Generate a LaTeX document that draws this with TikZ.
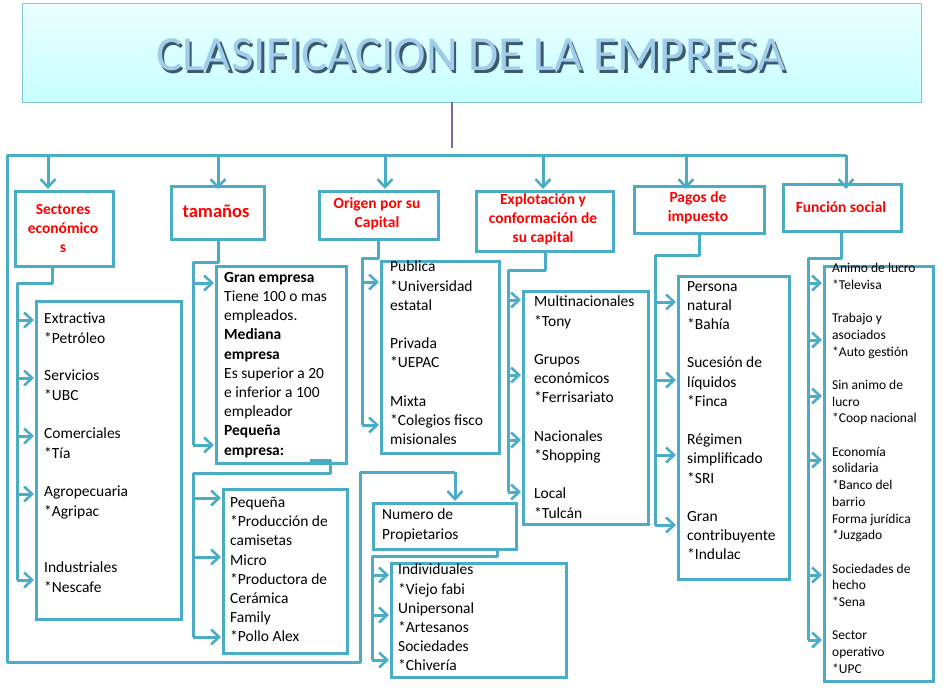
\documentclass[tikz,border=0pt]{standalone}
\usepackage{fontspec}
\setmainfont{Carlito}
\usetikzlibrary{arrows.meta,shadows}
\definecolor{bx}{RGB}{75,172,198}
\definecolor{ttl}{RGB}{160,205,235}
\begin{document}
\begin{tikzpicture}[x=1pt,y=-1pt,
 box/.style={draw=bx,line width=3pt,fill=white},
 ln/.style={draw=bx,line width=3pt,line join=round},
 ar/.style={ln,-{Straight Barb[length=8pt,width=15pt,line width=2.6pt]}},
 hd/.style={text=red,font=\bfseries\fontsize{15.5}{19}\selectfont,align=center,inner sep=0},
 tx/.style={anchor=north west,inner sep=0,align=left,font=\fontsize{15.5}{19.2}\selectfont},
 sm/.style={anchor=north west,inner sep=0,align=left,font=\fontsize{13.5}{16.7}\selectfont}]
\useasboundingbox (0,0) rectangle (945,691);
% title
\node[draw=bx!70,line width=1pt,top color=cyan!8,bottom color=cyan!22,minimum width=899pt,minimum height=99pt,anchor=north west,inner sep=0] (title) at (22,3) {};
\node[text={rgb,255:red,60;green,90;blue,110},font=\fontsize{49}{49}\selectfont,inner sep=0] (ts) at (473.5,57.5) {CLASIFICACION DE LA EMPRESA};
\node[text=ttl,font=\fontsize{49}{49}\selectfont,inner sep=0] (tt) at (471,55) {CLASIFICACION DE LA EMPRESA};
\coordinate (tb) at (452,102);
\coordinate (tbe) at (452,148);
\draw[draw={rgb,255:red,128;green,100;blue,162},line width=2.5pt] (tb) -- (tbe);
% bus
\coordinate (bL) at (7,155); \coordinate (bR) at (846,155);
\coordinate (lp1) at (7,662); \coordinate (lp2) at (360,662); \coordinate (lp3) at (360,472); \coordinate (lp4) at (455,472);
\draw[ln] (bR) -- (bL) -- (lp1) -- (lp2) -- (lp3) -- (lp4);
% headers
\node[box,anchor=north west,minimum width=98pt,minimum height=75pt] (h1) at (14,190) {};
\node[hd] at (63,228) {Sectores\\económico\\s};
\node[box,anchor=north west,minimum width=93pt,minimum height=53pt] (h2) at (170,185) {};
\node[hd,font=\bfseries\fontsize{18.5}{19}\selectfont] at (216,211) {tamaños};
\node[box,anchor=north west,minimum width=119pt,minimum height=48pt] (h3) at (318,190) {};
\node[hd] at (377,214) {Origen por su\\Capital};
\node[box,anchor=north west,minimum width=137pt,minimum height=60pt] (h4) at (475,190) {};
\node[hd] at (543,219) {Explotación y\\conformación de\\su capital};
\node[box,anchor=north west,minimum width=130pt,minimum height=47pt] (h5) at (633,185) {};
\node[hd] at (698,208) {Pagos de\\impuesto};
\node[box,anchor=north west,minimum width=118pt,minimum height=47pt] (h6) at (782,183) {};
\node[hd] at (841,207) {Función social};
\foreach \x/\n in {48/h1,218/h2,385/h3,543/h4,686/h5,846/h6}{
  \coordinate (t\n) at (\x,155);
  \draw[ar] (t\n) -- (\x,189);}
% child boxes
\node[box,anchor=north west,minimum width=145pt,minimum height=318pt] (c1) at (35,300) {};
\node[box,anchor=north west,minimum width=130pt,minimum height=197pt] (c2) at (215,265) {};
\node[box,anchor=north west,minimum width=124pt,minimum height=164pt] (c2b) at (222,488) {};
\node[box,anchor=north west,minimum width=118pt,minimum height=192pt] (c3) at (380,260) {};
\node[box,anchor=north west,minimum width=125pt,minimum height=233pt] (c4) at (522,290) {};
\node[box,anchor=north west,minimum width=111pt,minimum height=303pt] (c5) at (677,275) {};
\node[box,anchor=north west,minimum width=109pt,minimum height=415pt] (c6) at (823,265) {};
\node[box,anchor=north west,minimum width=143pt,minimum height=46pt] (c7) at (372,502) {};
\node[box,anchor=north west,minimum width=175pt,minimum height=114pt] (c8) at (390,562) {};
% connectors
\draw[ln] (52,265) -- (52,283) -- (17,283) -- (17,580);
\foreach \y in {320,378,436,494,580} \draw[ar] (17,\y) -- (34,\y);
\draw[ln] (218,238) -- (218,262) -- (193,262) -- (193,445);
\foreach \y in {283,445} \draw[ar] (193,\y) -- (214,\y);
\draw[ln] (310,460) -- (330,460) -- (330,473) -- (193,473) -- (193,637);
\foreach \y in {498,557,637} \draw[ar] (193,\y) -- (221,\y);
\draw[ln] (378,238) -- (378,258) -- (362,258) -- (362,425);
\foreach \y in {282,425} \draw[ar] (362,\y) -- (379,\y);
\draw[ln] (545,250) -- (545,270) -- (508,270) -- (508,492);
\foreach \y in {300,375,440,492} \draw[ar] (508,\y) -- (521,\y);
\draw[ln] (699,232) -- (699,255) -- (655,255) -- (655,525);
\foreach \y in {302,380,455,525} \draw[ar] (655,\y) -- (676,\y);
\draw[ln] (841,230) -- (841,258) -- (808,258) -- (808,640);
\foreach \y in {283,340,396,460,575,640} \draw[ar] (808,\y) -- (822,\y);
\draw[ar] (lp4) -- (455,501);
\draw[ln] (497,548) -- (497,556) -- (372,556) -- (372,660);
\foreach \y in {575,615,660} \draw[ar] (372,\y) -- (389,\y);
% texts
\node[tx] at (44,313) {Extractiva\\*Petróleo};
\node[tx] at (44,370) {Servicios\\*UBC};
\node[tx] at (44,428) {Comerciales\\*Tía};
\node[tx] at (44,486) {Agropecuaria\\*Agripac};
\node[tx] at (44,562) {Industriales\\*Nescafe};
\node[tx] at (224,272) {\textbf{Gran empresa}\\Tiene 100 o mas\\empleados.\\\textbf{Mediana}\\\textbf{empresa}\\Es superior a 20\\e inferior a 100\\empleador\\\textbf{Pequeña}\\\textbf{empresa:}};
\node[tx] at (230,497) {Pequeña\\*Producción de\\camisetas\\Micro\\*Productora de\\Cerámica\\Family\\*Pollo Alex};
\node[tx] at (390,261) {Publica\\*Universidad\\estatal\\\mbox{}\\Privada\\*UEPAC\\\mbox{}\\Mixta\\*Colegios fisco\\misionales};
\node[tx] at (534,296) {Multinacionales\\*Tony\\\mbox{}\\Grupos\\económicos\\*Ferrisariato\\\mbox{}\\Nacionales\\*Shopping\\\mbox{}\\Local\\*Tulcán};
\node[tx] at (687,281) {Persona\\natural\\*Bahía\\\mbox{}\\Sucesión de\\líquidos\\*Finca\\\mbox{}\\Régimen\\simplificado\\*SRI\\\mbox{}\\Gran\\contribuyente\\*Indulac};
\node[tx] at (382,509) {Numero de\\Propietarios};
\node[tx] at (398,564) {Individuales\\*Viejo fabi\\Unipersonal\\*Artesanos\\Sociedades\\*Chivería};
\node[sm] at (832,263) {Animo de lucro\\*Televisa\\\mbox{}\\Trabajo y\\asociados\\*Auto gestión\\\mbox{}\\Sin animo de\\lucro\\*Coop nacional\\\mbox{}\\Economía\\solidaria\\*Banco del\\barrio\\Forma jurídica\\*Juzgado\\\mbox{}\\Sociedades de\\hecho\\*Sena\\\mbox{}\\Sector\\operativo\\*UPC};
\end{tikzpicture}
\end{document}
